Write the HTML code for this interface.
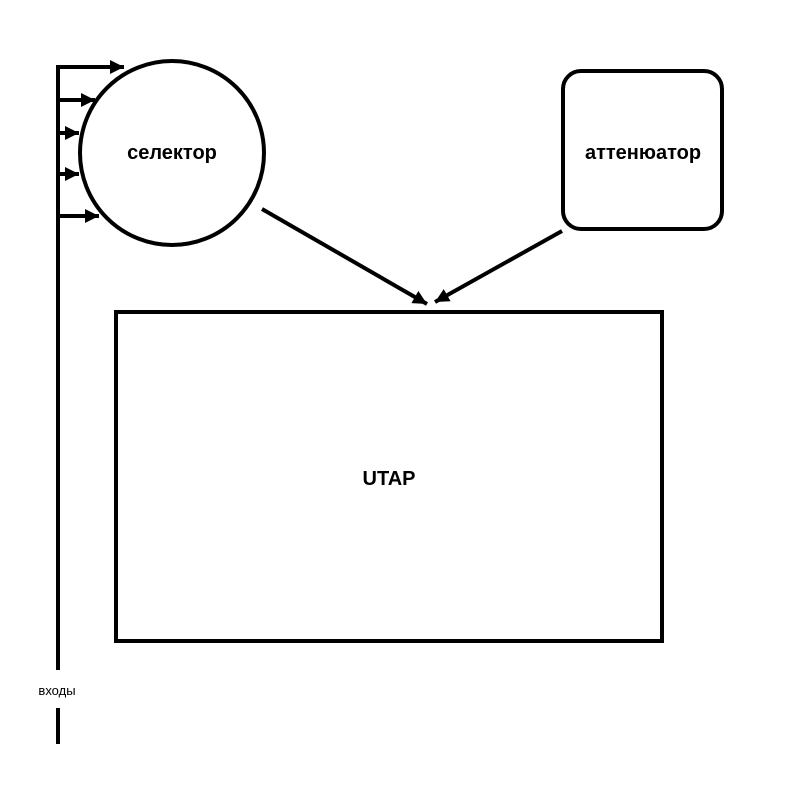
<!DOCTYPE html>
<html><head><meta charset="utf-8"><style>body{margin:0;background:#fff}svg{display:block}</style></head><body>
<svg width="800" height="800" viewBox="0 0 800 800" font-family="Liberation Sans, sans-serif">
<defs><marker id="a" markerWidth="16" markerHeight="14" refX="14" refY="7" orient="auto" markerUnits="userSpaceOnUse"><path d="M0,0 L14,7 L0,14 z" fill="#000"/></marker></defs>
<g stroke="#000" stroke-width="4" fill="none">
<line x1="58" y1="66" x2="58" y2="670"/>
<line x1="58" y1="708" x2="58" y2="744"/>
<line x1="56" y1="67" x2="124" y2="67" marker-end="url(#a)"/>
<line x1="58" y1="100" x2="95" y2="100" marker-end="url(#a)"/>
<line x1="58" y1="133" x2="79" y2="133" marker-end="url(#a)"/>
<line x1="58" y1="174" x2="79" y2="174" marker-end="url(#a)"/>
<line x1="58" y1="216" x2="99" y2="216" marker-end="url(#a)"/>
<circle cx="172" cy="153" r="92"/>
<rect x="563" y="71" width="159" height="158" rx="18"/>
<rect x="116" y="312" width="546" height="329"/>
<line x1="262" y1="209" x2="427" y2="304" marker-end="url(#a)"/>
<line x1="562" y1="231" x2="435" y2="302" marker-end="url(#a)"/>
</g>
<g font-weight="bold" font-size="20" text-anchor="middle">
<text x="172" y="159">селектор</text>
<text x="643" y="159">аттенюатор</text>
<text x="389" y="485">UTAP</text>
</g>
<text x="57" y="695" font-size="13" text-anchor="middle">входы</text>
</svg>
</body></html>
